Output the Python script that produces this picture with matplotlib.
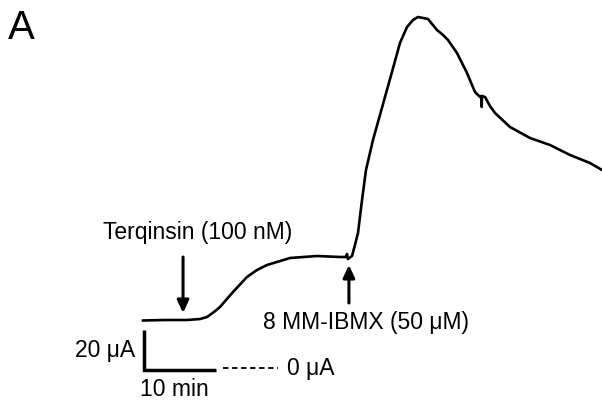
import matplotlib
matplotlib.use("Agg")
from matplotlib import pyplot as plt

plt.rcParams['font.family'] = ['Liberation Sans', 'DejaVu Sans']

# trace: time (min) and short-circuit current (uA)
t = [0, 3.06, 6.11, 7.92, 8.89, 9.86, 10.69, 12.5, 14.44, 15.83, 17.22, 20.42,
     24.17, 27.36, 28.19, 28.33, 28.47, 29.03, 29.44, 29.86, 30.42, 30.97, 31.94,
     33.61, 34.58, 35.69, 36.67, 37.5, 38.19, 38.89, 39.58, 40.83, 41.67, 42.36,
     43.61, 45.0, 46.11, 46.81, 47.01, 47.04, 47.08, 47.5, 48.19, 48.89, 50.97,
     53.75, 56.53, 59.31, 62.08, 63.75]
current = [24.75, 25, 25, 25.5, 26.5, 29, 31.5, 39, 46.5, 50, 52.5, 56,
           57, 56.5, 56.5, 58, 55.5, 57, 62.5, 68.5, 85, 100, 115,
           136.5, 149, 163.5, 171.5, 175, 176.5, 176, 175.5, 170, 167.5, 165,
           158.5, 148.5, 139, 136.5, 137, 131.5, 137, 136.5, 132, 128.5, 121.5,
           116, 112.5, 107.5, 103.5, 100]

terq_t = 5.56
ibmx_t = 28.6
bar_min = 10
bar_ua = 20

fig = plt.figure(figsize=(6.02, 4.0), dpi=100)
ax = fig.add_axes([0, 0, 1, 1])
ax.set_xlim(-19.86, 63.75)
ax.set_ylim(-15, 185)
ax.axis('off')

ax.plot(t, current, color='black', lw=1.9, solid_joinstyle='round')

# drug additions
arrow = dict(arrowstyle='-|>,head_length=0.75,head_width=0.35', color='black', lw=2.2, shrinkA=0, shrinkB=0)
ax.annotate('', xy=(terq_t, 28.5), xytext=(terq_t, 56.5), arrowprops=arrow)
ax.annotate('', xy=(ibmx_t, 52.5), xytext=(ibmx_t, 33.5), arrowprops=arrow)
ax.text(7.6, 68.5, 'Terqinsin (100 nM)', ha='center', va='center', fontsize=16.5)
ax.text(16.67, 23.5, '8 MM-IBMX (50 μM)', ha='left', va='center', fontsize=16.5)

# scale bars
ax.plot([0.14, 0.14, 0.14 + bar_min], [bar_ua, 0, 0], color='black', lw=2.5,
        solid_joinstyle='miter', solid_capstyle='butt')
ax.plot([11.1, 18.75], [1, 1], color='black', lw=1.3, ls=(0, (3, 2)))
ax.text(-1.1, 10, '20 μA', ha='right', va='center', fontsize=16.5)
ax.text(20, 1, '0 μA', ha='left', va='center', fontsize=16.5)
ax.text(-0.4, -10, '10 min', ha='left', va='center', fontsize=16.5)

fig.text(8 / 602, 1 - 28 / 400, 'A', ha='left', va='center', fontsize=29)

fig.savefig('out.png', dpi=100)
